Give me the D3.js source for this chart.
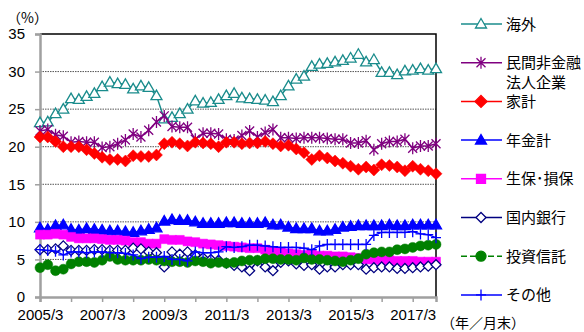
<!DOCTYPE html>
<html>
<head>
<meta charset="utf-8">
<script src="https://cdn.jsdelivr.net/npm/d3@7"></script>
<style>
  body { margin: 0; background: #fff; }
  svg { display: block; }
</style>
</head>
<body>
<svg id="chart"></svg>
<script>
// Quarterly shares (%), 2005/3 .. 2017/12
const kaigai = [23.2, 23.3, 24.4, 25.0, 26.4, 26.3, 26.7, 27.1, 28.0, 28.6, 28.4, 28.3, 27.7, 28.1, 27.9, 26.8, 23.7, 23.9, 24.4, 25.0, 26.1, 25.8, 25.9, 26.3, 26.8, 27.1, 26.5, 26.4, 26.3, 26.2, 26.0, 26.8, 28.1, 29.0, 29.4, 30.7, 31.0, 31.1, 31.3, 31.5, 31.8, 32.3, 31.3, 31.6, 29.9, 29.9, 29.6, 30.1, 30.2, 30.4, 30.2, 30.4];
const minkan = [22.1, 22.3, 21.6, 21.4, 20.6, 20.7, 20.6, 20.6, 19.9, 20.0, 20.4, 20.9, 21.7, 21.3, 22.2, 23.3, 24.1, 22.7, 22.6, 22.6, 21.0, 21.8, 21.8, 21.7, 21.0, 20.9, 21.5, 22.1, 21.3, 21.9, 22.3, 21.2, 21.2, 21.1, 21.2, 21.2, 21.2, 21.1, 21.0, 21.0, 20.5, 20.5, 20.8, 19.6, 20.4, 20.7, 20.7, 21.0, 19.8, 20.1, 20.1, 20.4];
const kakei = [21.3, 21.3, 20.7, 20.0, 20.0, 20.0, 19.6, 19.1, 18.6, 18.3, 18.3, 18.1, 18.8, 18.7, 18.7, 18.9, 20.4, 20.6, 20.4, 20.1, 20.6, 20.5, 20.4, 20.0, 20.6, 20.6, 20.4, 20.5, 20.5, 20.7, 20.4, 20.1, 20.2, 19.7, 19.2, 18.3, 18.8, 18.5, 18.1, 17.8, 17.4, 17.0, 17.3, 16.9, 17.6, 17.5, 17.3, 16.8, 17.4, 17.0, 16.8, 16.4];
const nenkin = [9.2, 9.0, 9.5, 9.6, 9.0, 8.9, 9.1, 9.0, 8.9, 8.8, 8.8, 8.7, 8.6, 8.8, 9.0, 9.2, 10.1, 10.3, 10.2, 10.2, 10.0, 9.8, 9.8, 9.8, 9.9, 9.9, 9.8, 9.8, 9.8, 9.9, 9.6, 9.6, 9.3, 9.1, 9.1, 9.1, 8.8, 8.8, 9.0, 9.3, 9.4, 9.5, 9.5, 9.5, 9.5, 9.6, 9.5, 9.5, 9.6, 9.6, 9.6, 9.6];
const seiho = [8.3, 8.3, 8.4, 8.3, 8.0, 7.8, 7.8, 7.8, 7.7, 7.6, 7.6, 7.5, 7.3, 7.3, 7.1, 7.1, 7.7, 7.6, 7.6, 7.4, 7.3, 7.1, 7.0, 6.9, 6.8, 6.7, 6.6, 6.5, 6.5, 6.3, 6.1, 6.0, 5.8, 5.7, 5.6, 5.7, 5.5, 5.5, 5.4, 5.4, 5.3, 5.2, 5.0, 5.0, 4.9, 4.9, 4.8, 4.8, 4.8, 4.7, 4.7, 4.7];
const ginko = [6.3, 6.3, 6.4, 6.8, 6.2, 6.2, 6.2, 6.3, 6.3, 6.2, 6.2, 6.2, 6.5, 6.4, 6.0, 5.9, 4.0, 6.0, 5.7, 6.0, 5.6, 5.2, 5.0, 4.9, 4.5, 4.2, 4.0, 3.5, 4.8, 4.0, 3.5, 4.6, 4.8, 4.4, 4.2, 4.3, 3.7, 4.0, 4.0, 4.3, 4.3, 4.3, 3.7, 3.9, 4.0, 4.0, 3.8, 3.8, 3.9, 4.0, 4.1, 4.3];
const toshin = [3.9, 4.3, 3.5, 3.7, 4.4, 4.7, 4.7, 4.6, 4.9, 5.4, 5.0, 4.9, 4.9, 4.9, 5.0, 4.9, 4.8, 4.7, 4.7, 4.6, 4.8, 4.7, 4.5, 4.6, 4.5, 4.6, 4.8, 4.9, 4.9, 5.1, 5.1, 5.0, 5.0, 4.9, 5.2, 5.0, 5.0, 4.9, 4.8, 4.7, 4.9, 5.1, 5.7, 5.9, 6.0, 6.0, 6.3, 6.4, 6.6, 6.8, 6.9, 7.0];
const sonota = [6.3, 6.2, 6.1, 5.6, 6.0, 6.0, 5.9, 6.0, 6.0, 5.9, 5.9, 5.8, 5.6, 5.1, 5.3, 5.3, 5.4, 5.0, 5.0, 4.8, 6.0, 5.9, 5.9, 6.0, 6.7, 6.6, 6.7, 6.9, 6.9, 6.8, 6.7, 6.6, 6.6, 6.6, 6.5, 6.3, 6.8, 7.0, 7.0, 7.0, 7.0, 7.0, 7.0, 8.2, 8.6, 8.6, 8.6, 8.6, 8.7, 8.4, 8.3, 7.9];

const xTickLabels = ["2005/3", "2007/3", "2009/3", "2011/3", "2013/3", "2015/3", "2017/3"];
const yTicks = [0, 5, 10, 15, 20, 25, 30, 35];

// Marker shapes, centred on the point
const markerPaths = {
  triangle: "M0,-5.5L5.5,4L-5.5,4Z",
  diamond: "M0,-6L6,0L0,6L-6,0Z",
  smallDiamond: "M0,-5L5,0L0,5L-5,0Z",
  square: "M-4.5,-4.5H4.5V4.5H-4.5Z",
  circle: "M5,0A5,5 0 1,1 -5,0A5,5 0 1,1 5,0Z",
  plus: "M-5,0H5M0,-5.5V5.5",
  star: "M-4.5,-4.5L4.5,4.5M-4.5,4.5L4.5,-4.5M0,-6V6",
};

const series = [
  { name: "海外", values: kaigai, color: "#1a8c8c", marker: "triangle", fill: "#fff" },
  { name: "民間非金融", name2: "法人企業", values: minkan, color: "#800080", marker: "star", fill: "none" },
  { name: "家計", values: kakei, color: "#ff0000", marker: "diamond", fill: "#ff0000" },
  { name: "年金計", values: nenkin, color: "#0000ff", marker: "triangle", fill: "#0000ff" },
  { name: "生保･損保", values: seiho, color: "#ff00ff", marker: "square", fill: "#ff00ff" },
  { name: "国内銀行", values: ginko, color: "#000080", marker: "smallDiamond", fill: "#fff" },
  { name: "投資信託", values: toshin, color: "#008000", marker: "circle", fill: "#008000", dash: "6,3" },
  { name: "その他", values: sonota, color: "#0000ff", marker: "plus", fill: "none" },
];

const width = 584;
const height = 332;
const plot = { left: 40, right: 436, top: 34, bottom: 297 };
const numFont = "'Liberation Sans', Arial, sans-serif";
const jpFont = "'Noto Sans CJK JP', 'Noto Sans', sans-serif";

const svg = d3.select("#chart").attr("width", width).attr("height", height);

const x = d3.scaleLinear().domain([0, kaigai.length - 1]).range([plot.left, plot.right]);
const y = d3.scaleLinear().domain([0, 35]).range([plot.bottom, plot.top]);

// Dotted gridlines
svg.append("g")
  .selectAll("line")
  .data(yTicks.filter((t) => t > 0 && t < 35))
  .enter()
  .append("line")
  .attr("x1", plot.left)
  .attr("x2", plot.right)
  .attr("y1", (d) => y(d))
  .attr("y2", (d) => y(d))
  .attr("stroke", "#555")
  .attr("stroke-width", 1)
  .attr("stroke-dasharray", "1.5,1");

// Top and right frame
svg.append("path")
  .attr("d", `M${plot.left},${plot.top}H${plot.right}V${plot.bottom}`)
  .attr("fill", "none")
  .attr("stroke", "#000")
  .attr("stroke-width", 1.5);

// Y axis
const yAxis = svg.append("g")
  .attr("transform", `translate(${plot.left},0)`)
  .call(d3.axisLeft(y).tickValues(yTicks).tickSize(5).tickPadding(10));
yAxis.select(".domain").attr("stroke", "#a0a0a0").attr("stroke-width", 2.5);
yAxis.selectAll(".tick line").attr("stroke", "#a0a0a0").attr("stroke-width", 1.5);
yAxis.selectAll(".tick text")
  .attr("font-family", numFont)
  .attr("font-size", "15px")
  .attr("fill", "#000");

// X axis: ticks every year, labels every two years
const xAxis = svg.append("g")
  .attr("transform", `translate(0,${plot.bottom})`)
  .call(
    d3.axisBottom(x)
      .tickValues(d3.range(0, kaigai.length, 4))
      .tickSize(5)
      .tickPadding(7)
      .tickFormat((d) => (d % 8 === 0 ? xTickLabels[d / 8] : ""))
  );
xAxis.select(".domain").attr("stroke", "#a0a0a0").attr("stroke-width", 2.5);
xAxis.selectAll(".tick line").attr("stroke", "#a0a0a0").attr("stroke-width", 1.5);
xAxis.selectAll(".tick text")
  .attr("font-family", numFont)
  .attr("font-size", "15px")
  .attr("fill", "#000");

// Series lines and markers
const line = d3.line().x((d, i) => x(i)).y((d) => y(d));

series.forEach((s) => {
  const g = svg.append("g");
  g.append("path")
    .datum(s.values)
    .attr("d", line)
    .attr("fill", "none")
    .attr("stroke", s.color)
    .attr("stroke-width", 1.5)
    .attr("stroke-dasharray", s.dash || null);
  g.selectAll("path.mk")
    .data(s.values)
    .enter()
    .append("path")
    .attr("class", "mk")
    .attr("d", markerPaths[s.marker])
    .attr("transform", (d, i) => `translate(${x(i)},${y(d)})`)
    .attr("fill", s.fill)
    .attr("stroke", s.color)
    .attr("stroke-width", s.marker === "square" || s.marker === "circle" || s.marker === "diamond" ? 0.5 : 1.3);
});

// Unit labels
svg.append("text")
  .attr("x", 7)
  .attr("y", 23)
  .attr("font-family", jpFont)
  .attr("font-size", "14px")
  .text("（%）");

svg.append("text")
  .attr("x", 441)
  .attr("y", 328)
  .attr("font-family", jpFont)
  .attr("font-size", "14px")
  .text("（年／月末）");

// Legend
const legendStep = 38.7;
const legend = svg.append("g");
series.forEach((s, i) => {
  const ly = 24 + i * legendStep;
  const lg = legend.append("g").attr("transform", `translate(0,${ly})`);
  lg.append("line")
    .attr("x1", 461)
    .attr("x2", 502)
    .attr("stroke", s.color)
    .attr("stroke-width", 1.5)
    .attr("stroke-dasharray", s.dash || null);
  lg.append("path")
    .attr("d", markerPaths[s.marker])
    .attr("transform", "translate(481,0)")
    .attr("fill", s.fill)
    .attr("stroke", s.color)
    .attr("stroke-width", 1.3);
  lg.append("text")
    .attr("x", 506)
    .attr("y", 5.5)
    .attr("font-family", jpFont)
    .attr("font-size", "15px")
    .text(s.name);
  if (s.name2) {
    lg.append("text")
      .attr("x", 506)
      .attr("y", 5.5 + 19.5)
      .attr("font-family", jpFont)
      .attr("font-size", "15px")
      .text(s.name2);
  }
});
</script>
</body>
</html>
